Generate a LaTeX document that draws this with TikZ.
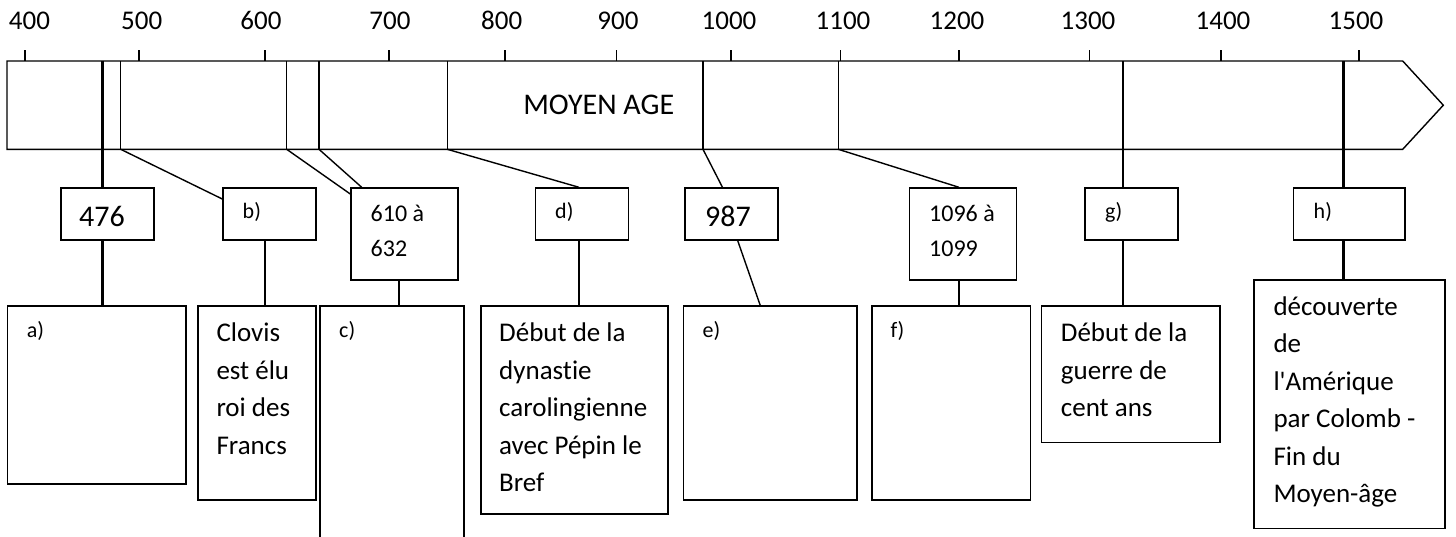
\documentclass[tikz,border=0pt]{standalone}
\usepackage{fontspec}
\setmainfont{Carlito}[Ligatures={TeXOff,NoCommon}]
\begin{document}
\begin{tikzpicture}[x=1pt,y=-1pt,line width=1.4pt,
  box/.style={draw,fill=white,line width=1.5pt,anchor=north west,inner sep=0pt},
  thickline/.style={line width=3pt},
  toplbl/.style={font=\fontsize{27}{30}\selectfont,anchor=base,inner sep=0pt},
  big/.style={font=\fontsize{30}{34}\selectfont,anchor=base west,inner sep=0pt},
  small/.style={font=\fontsize{22}{26}\selectfont,anchor=base west,inner sep=0pt},
  mid/.style={font=\fontsize{24}{34.3}\selectfont,anchor=base west,inner sep=0pt,align=left},
  body/.style={font=\fontsize{27}{37.5}\selectfont,anchor=base west,inner sep=0pt,align=left}]
\useasboundingbox (0,0) rectangle (1456,536);
\clip (0,0) rectangle (1456,536);
% scale
\foreach \yr/\x/\lx in {400/25/29.5,500/139/141.7,600/265/261,700/389/390,800/505/501.7,900/616.7/618,1000/731/729,1100/840.7/843,1200/959/957,1300/1089.3/1088,1400/1221/1223,1500/1359/1356}{
  \draw (\x,50) -- (\x,61);
  \node[toplbl] (y\yr) at (\lx,29.3) {\yr};
}
% timeline bar
\draw (7,61) -- (1402.7,61) -- (1443.3,105.2) -- (1402.7,149.3) -- (7,149.3) -- cycle;
\foreach \x in {120.7,286.7,319,447.3,703,838.3}{\draw (\x,61) -- (\x,149.3);}
\node[font=\fontsize{30}{34}\selectfont,anchor=base west,inner sep=0pt] (moyen) at (522.6,114.3) {MOYEN AGE};
% coordinates on the bar
\coordinate (q476) at (102.7,61);
\coordinate (qb) at (120.7,149.3);
\coordinate (q610a) at (286.7,149.3);
\coordinate (q610b) at (319,149.3);
\coordinate (qd) at (447.3,149.3);
\coordinate (q987) at (703,149.3);
\coordinate (q1096) at (838.3,149.3);
\coordinate (qg) at (1123,61);
\coordinate (qh) at (1343.3,61);
\coordinate (xb) at (265,0);
\coordinate (xc) at (399,0);
\coordinate (xd) at (579,0);
\coordinate (xf) at (959,0);
% lower boxes
\node[box,minimum width=178.6,minimum height=178.3] (ba) at (6.7,305) {};
\node[box,minimum width=118.3,minimum height=194.3] (bclovis) at (197,305) {};
\node[box,minimum width=144,minimum height=260] (bc) at (319,305) {};
\node[box,minimum width=187.3,minimum height=208.3] (bdyn) at (480,305) {};
\node[box,minimum width=173.3,minimum height=194.3] (be) at (682.7,305) {};
\node[box,minimum width=158.7,minimum height=194.3] (bf) at (871,305) {};
\node[box,minimum width=178.6,minimum height=136.7] (bguerre) at (1040.7,305) {};
\node[box,minimum width=191,minimum height=248.4] (bdec) at (1253,279.3) {};
% connectors (under the date boxes)
\draw[thickline] (q476) -- (q476 |- ba.north);
\draw[thickline] (qh) -- (qh |- bdec.north);
\draw (qg) -- (qg |- bguerre.north);
% date boxes
\node[box,minimum width=93,minimum height=52] (n476) at (60.3,187.3) {};
\node[box,minimum width=93,minimum height=52] (nb) at (222.3,187.3) {};
\node[box,minimum width=107,minimum height=92] (n610) at (350.3,187.3) {};
\node[box,minimum width=93,minimum height=52] (nd) at (534.7,187.3) {};
\node[box,minimum width=93,minimum height=52] (n987) at (684.3,187.3) {};
\node[box,minimum width=107,minimum height=92] (n1096) at (908.7,187.3) {};
\node[box,minimum width=93,minimum height=52] (ng) at (1084.3,187.3) {};
\node[box,minimum width=111.3,minimum height=52] (nh) at (1292.7,187.3) {};
% other connectors
\draw (qb) -- ([yshift=-11.7pt]nb.north west);
\draw (nb.south -| xb) -- (xb |- bclovis.north);
\draw (q610a) -- ([yshift=-6.7pt]n610.north west);
\draw (q610b) -- ([xshift=11.4pt]n610.north west);
\draw (n610.south -| xc) -- (xc |- bc.north);
\draw (qd) -- (nd.north -| xd);
\draw (nd.south -| xd) -- (xd |- bdyn.north);
\draw (q987) -- ([xshift=-9.1pt]n987.north);
\draw ([xshift=6.2pt]n987.south) -- ([xshift=-10pt]be.north);
\draw (q1096) -- (n1096.north -| xf);
\draw (n1096.south -| xf) -- (xf |- bf.north);
% texts (multi-line nodes anchored at the baseline of their last line)
\node[big] (t476) at (78.5,226.7) {476};
\node[small] (tb) at (242,218.5) {b)};
\node[mid] (t610) at (370,256) {610 à\\632};
\node[small] (td) at (554.5,218.5) {d)};
\node[big] (t987) at (704.5,226.7) {987};
\node[mid] (t1096) at (928.5,256) {1096 à\\1099};
\node[small] (tg) at (1104.5,218.5) {g)};
\node[small] (th) at (1313,218.5) {h)};
\node[small] (ta) at (26.2,337.5) {a)};
\node[small] (tc) at (338.5,337.5) {c)};
\node[small] (te) at (702,337.5) {e)};
\node[small] (tf) at (890,337.5) {f)};
\node[body] (tclovis) at (215.8,454.2) {Clovis\\est élu\\roi des\\Francs};
\node[body] (tdyn) at (498.5,491.7) {Début de la\\dynastie\\carolingienne\\avec Pépin le\\Bref};
\node[body] (tguerre) at (1060.2,416.7) {Début de la\\guerre de\\cent ans};
\node[body] (tdec) at (1272.8,502.5) {découverte\\de\\l'Amérique\\par Colomb -\\Fin du\\Moyen-âge};
\end{tikzpicture}
\end{document}
